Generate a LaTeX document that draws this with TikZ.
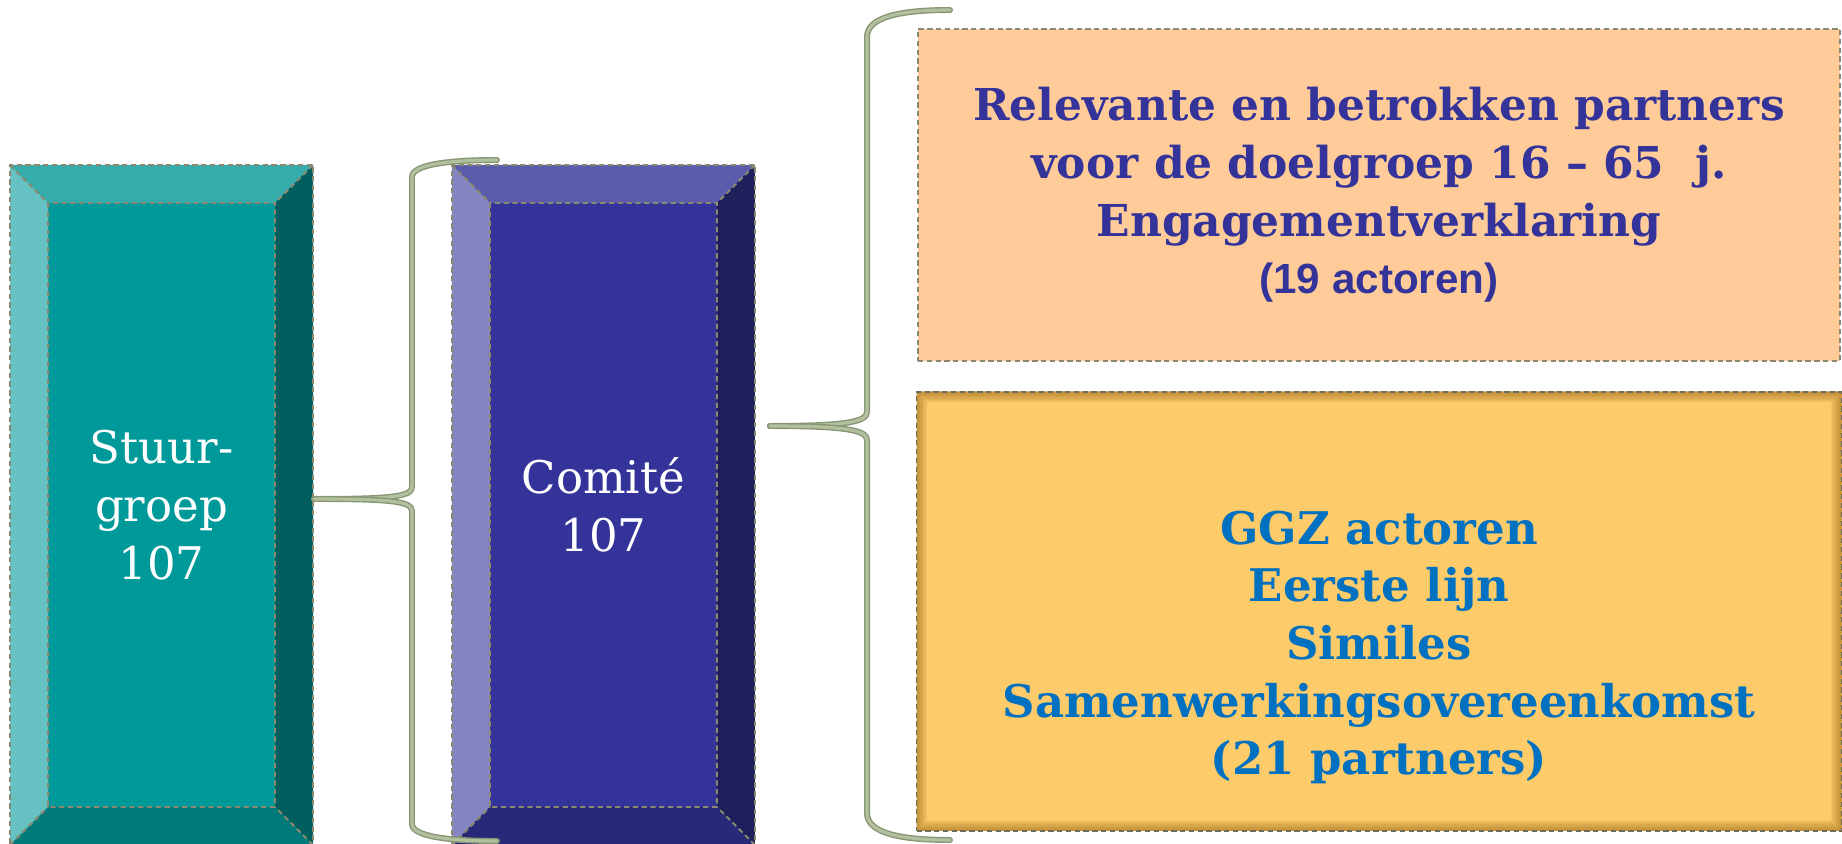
\documentclass[tikz,border=0pt]{standalone}
\usepackage{fontspec}
\setmainfont{DejaVu Serif}
\newfontfamily\arialfont{Liberation Sans}
\usepackage{tikz}
\usetikzlibrary{positioning, calc}
\definecolor{rimgray}{RGB}{138,136,112}
\definecolor{braceedge}{RGB}{135,150,115}
\definecolor{bracefill}{RGB}{178,192,160}
\definecolor{tealmid}{RGB}{0,153,153}
\definecolor{tealtop}{RGB}{54,172,172}
\definecolor{tealleft}{RGB}{102,194,194}
\definecolor{tealright}{RGB}{0,94,94}
\definecolor{tealbot}{RGB}{0,122,122}
\definecolor{navymid}{RGB}{51,51,153}
\definecolor{navytop}{RGB}{92,92,173}
\definecolor{navyleft}{RGB}{133,133,194}
\definecolor{navyright}{RGB}{31,31,92}
\definecolor{navybot}{RGB}{41,41,122}
\definecolor{peach}{RGB}{255,204,153}
\definecolor{goldfill}{RGB}{253,203,106}
\definecolor{glowbrown}{RGB}{150,100,20}
\definecolor{inkblue}{RGB}{51,51,153}
\definecolor{skyblue}{RGB}{0,112,192}
\tikzset{
    rim/.style = {draw=rimgray, line width=0.55pt, dash pattern=on 1.5pt off 1pt},
    bevelbox/.style n args = {5}{
        rim, fill=#1,
        minimum width = 3.03cm,
        minimum height = 6.80cm,
        inner sep = 0pt,
        align = center, text = white,
        font = \fontsize{12.8}{16.4}\selectfont,
        path picture = {
            \coordinate (sw) at (path picture bounding box.south west);
            \coordinate (ne) at (path picture bounding box.north east);
            \coordinate (nw) at (sw |- ne);
            \coordinate (se) at (ne |- sw);
            \coordinate (isw) at ($(sw)+(0.38,0.38)$);
            \coordinate (ine) at ($(ne)+(-0.38,-0.38)$);
            \coordinate (inw) at (isw |- ine);
            \coordinate (ise) at (ine |- isw);
            \fill[#2] (nw) -- (ne) -- (ine) -- (inw) -- cycle;
            \fill[#3] (nw) -- (inw) -- (isw) -- (sw) -- cycle;
            \fill[#4] (ne) -- (se) -- (ise) -- (ine) -- cycle;
            \fill[#5] (sw) -- (se) -- (ise) -- (isw) -- cycle;
            \draw[rim] (inw) rectangle (ise) (nw) -- (inw) (ne) -- (ine) (sw) -- (isw) (se) -- (ise);
        }
    },
    peachbox/.style = {
        rim, fill=peach,
        minimum width = 9.22cm,
        minimum height = 3.32cm,
        align = center, text = inkblue,
        font = \bfseries\fontsize{12.5}{16.4}\selectfont
    },
    goldbox/.style = {
        rim, draw=rimgray!80!black, fill=goldfill,
        minimum width = 9.25cm,
        minimum height = 4.39cm,
        path picture = {
            \foreach \k in {1,...,8}
                \draw[glowbrown, solid, opacity=0.09, line width=\k*0.75pt]
                    (path picture bounding box.south west) rectangle (path picture bounding box.north east);
        }
    },
    goldtext/.style = {
        align = center, text = skyblue,
        font = \bfseries\fontsize{12.8}{16.4}\selectfont
    },
    brace/.style = {draw=braceedge, line width=0.4pt, double=bracefill, double distance=0.9pt, line cap=round}
}

\begin{document}
\begin{tikzpicture}

    \useasboundingbox (0,0) rectangle (18.42,8.43);

    \node[bevelbox={tealmid}{tealtop}{tealleft}{tealright}{tealbot}] (stuur) at (1.615,3.38) {Stuur-\\groep\\107};
    \node[bevelbox={navymid}{navytop}{navyleft}{navyright}{navybot}, right = 1.37 of stuur] (comite) {Comité\\107};

    \node[peachbox] (relevant) at (13.79,6.48) {Relevante en betrokken partners\\voor de doelgroep 16 – 65\hspace{0.7em}j.\\Engagementverklaring\\{\arialfont\fontsize{12}{16.4}\selectfont\bfseries (19 actoren)}};
    \node[goldbox, below = 0.29 of relevant] (ggz) {};
    \node[goldtext] (ggzlines) at ([yshift=-0.36cm]ggz.center) {GGZ actoren\\Eerste lijn\\Similes\\Samenwerkingsovereenkomst\\(21 partners)};

    % brace Stuurgroep -> Comite
    \coordinate (b1tip) at ([yshift=0.06cm]stuur.east);
    \coordinate (b1top) at (4.97,6.83);
    \coordinate (b1bot) at (4.97,0.02);
    \draw[brace] (b1tip) .. controls +(0.75,0) and +(0,-0.1) .. (4.12,3.56) -- (4.12,6.66) .. controls +(0,0.13) and +(-0.45,0) .. (b1top);
    \draw[brace] (b1tip) .. controls +(0.75,0) and +(0,0.1) .. (4.12,3.32) -- (4.12,0.19) .. controls +(0,-0.13) and +(-0.45,0) .. (b1bot);

    % brace Comite -> partners
    \coordinate (b2tip) at ([shift={(0.14,0.79)}]comite.east);
    \coordinate (b2top) at (9.50,8.33);
    \coordinate (b2bot) at (9.50,0.03);
    \draw[brace] (b2tip) .. controls +(0.75,0) and +(0,-0.1) .. (8.67,4.31) -- (8.67,8.06) .. controls +(0,0.2) and +(-0.5,0) .. (b2top);
    \draw[brace] (b2tip) .. controls +(0.75,0) and +(0,0.1) .. (8.67,4.03) -- (8.67,0.30) .. controls +(0,-0.2) and +(-0.5,0) .. (b2bot);

\end{tikzpicture}
\end{document}
